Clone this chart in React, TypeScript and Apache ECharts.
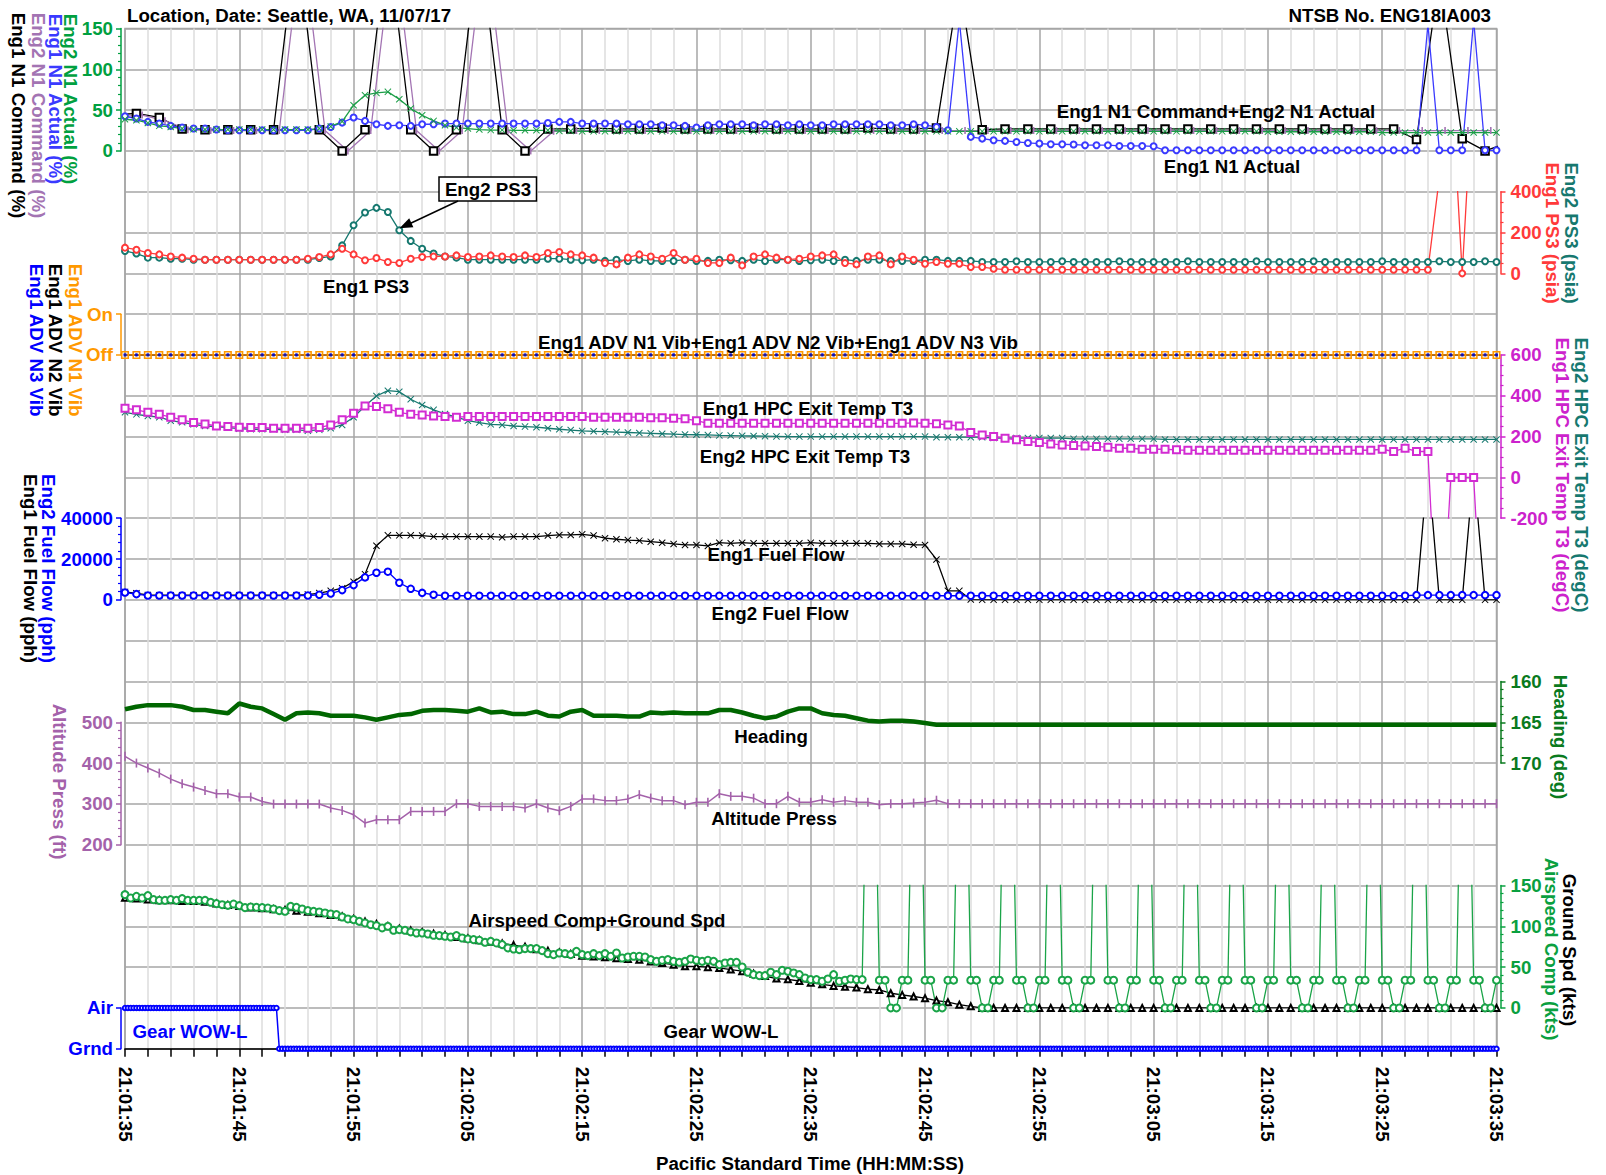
import React, { useEffect, useRef } from 'react';
import * as echarts from 'echarts';

const FONT = '"Liberation Sans", Arial, Helvetica, sans-serif';
const FS = 18.7;

// ---------------- tick labels ----------------
const timeTickLabels = ['21:01:35', '21:01:45', '21:01:55', '21:02:05', '21:02:15', '21:02:25', '21:02:35', '21:02:45', '21:02:55', '21:03:05', '21:03:15', '21:03:25', '21:03:35'];
const advStateLabels = ['Off', 'On'];
const gearStateLabels = ['Grnd', 'Air'];

// ---------------- data (seconds after 21:01:35) ----------------
// N1 commands sampled every 2 s (Eng1 from t=-1, Eng2 from t=-0.5)
const eng1N1Command = [44, 46, 41, 27, 26, 26, 26, 26, 260, 26,
  0, 26, 260, 26, 0, 26, 260, 26, 0, 27,
  27, 28, 27, 27, 28, 27, 27, 27, 28, 27,
  27, 27, 27, 28, 27, 27, 28, 205, 26, 27,
  27, 27, 27, 27, 27, 27, 27, 27, 27, 27,
  27, 27, 27, 27, 27, 27, 27, 14, 215, 15,
  0, 10];
const eng2N1Command = [42, 44, 37, 26, 25, 25, 25, 25, 260, 25,
  0, 25, 260, 25, 0, 25, 260, 25, 0, 24,
  25, 25, 25, 25, 25, 25, 25, 25, 25, 25,
  25, 25, 25, 25, 25, 25, 25, 25, 25, 25,
  25, 25, 25, 25, 25, 25, 25, 25, 25, 25,
  25, 25, 25, 25, 25, 25, 25, 25, 25, 25,
  25];
// 1 s parameters, t = 0..120
const eng1N1Actual = [42.5, 39.7, 35.6, 33.5, 30.7, 28.6, 27.4, 27.4, 26.2, 25.3,
  25.3, 25.3, 25.3, 25.3, 25.3, 25.3, 25.3, 27.4, 29.4, 34.7,
  40.9, 36.8, 32.7, 30.7, 31.5, 30.7, 32.7, 32.7, 33.5, 33.5,
  33.5, 33.5, 33.5, 33.5, 33.5, 33.5, 33.5, 34.3, 35.6, 35.6,
  33.5, 33.5, 33.5, 33.5, 32.7, 32.7, 32.7, 31.5, 31.5, 30.7,
  28.6, 31.5, 32.7, 32.7, 32.7, 31.5, 32.7, 32.7, 31.5, 32.7,
  31.5, 31.5, 32.7, 32.7, 32.7, 32.7, 32.7, 31.5, 31.5, 32.7,
  31.5, 29.4, 25.3, 160, 17.2, 15.1, 13.1, 12.3, 11, 9.8,
  9, 8.2, 8.2, 7.8, 7, 7, 7, 6.1, 6.1, 6.1,
  5.7, 0.8, 0.8, 0.8, 0.8, 0.8, 0.8, 0.8, 0.8, 0.8,
  0.8, 0.8, 0.8, 0.8, 0.8, 0.8, 0.8, 0.8, 0.8, 0.8,
  0.8, 0.8, 0.8, 0.8, 155, 0.8, 0.8, 0.8, 160, 0.8,
  0.8];
const eng2N1Actual = [38.8, 37.6, 34.3, 30.7, 29.4, 27.4, 26.6, 26.2, 26.2, 26.2,
  26.2, 26.2, 26.2, 26.2, 26.2, 26.2, 26.2, 27.4, 30, 36,
  56, 68.3, 71.1, 72.4, 63.4, 51.9, 43.7, 36.8, 31.5, 28.6,
  27.4, 26.2, 25.5, 25.5, 25.3, 25.3, 25.3, 25.3, 24.5, 24.5,
  24, 24, 24, 24, 24, 24, 24, 24, 24, 24,
  24, 24, 24, 24, 24, 24, 24, 24, 24, 24,
  24, 24, 24, 24, 24, 24, 24, 24, 24, 24,
  24, 24, 24, 24, 24, 24, 24, 24, 24, 24,
  24, 24, 24, 24, 24, 24, 24, 24, 24, 24,
  24, 24, 24, 24, 24, 24, 24, 24, 24, 24,
  23.5, 23.5, 23.5, 23.5, 23.5, 23.5, 23.5, 23.5, 23.5, 23.5,
  22.5, 22.5, 22.5, 22.5, 22.5, 22.5, 22.5, 22.5, 22.5, 22.5,
  22.5];
const eng2PS3 = [110, 97, 77, 77, 72, 72, 67, 67, 67, 67,
  67, 67, 67, 67, 67, 67, 67, 75, 83, 137,
  236, 298, 321, 301, 211, 159, 121, 97, 83, 77,
  67, 67, 67, 67, 67, 67, 67, 72, 72, 67,
  64, 67, 61, 67, 61, 67, 61, 61, 61, 67,
  61, 61, 67, 64, 61, 67, 61, 67, 67, 61,
  64, 67, 61, 67, 61, 67, 67, 61, 61, 61,
  67, 67, 61, 61, 61, 56, 56, 56, 59, 56,
  56, 56, 59, 56, 56, 56, 56, 59, 56, 56,
  56, 56, 56, 59, 56, 56, 56, 56, 56, 59,
  56, 56, 56, 56, 59, 56, 56, 56, 56, 56,
  59, 56, 56, 56, 56, 59, 56, 56, 56, 59,
  56];
const eng1PS3 = [126, 116, 100, 93, 83, 77, 72, 67, 67, 67,
  67, 67, 67, 67, 67, 67, 72, 80, 93, 121,
  93, 64, 75, 56, 51, 72, 80, 83, 83, 88,
  80, 83, 88, 83, 80, 88, 80, 100, 105, 93,
  88, 77, 51, 44, 77, 93, 83, 72, 100, 67,
  72, 51, 51, 77, 39, 83, 93, 77, 67, 72,
  83, 88, 93, 51, 44, 83, 88, 44, 83, 67,
  47, 56, 47, 47, 31, 31, 23, 18, 18, 18,
  18, 18, 18, 18, 18, 18, 18, 18, 18, 18,
  18, 18, 18, 18, 18, 18, 18, 18, 18, 18,
  18, 18, 18, 18, 18, 18, 18, 18, 18, 18,
  18, 18, 18, 18, 18, 470, 1000, 0, 1000, 1000,
  1000];
const eng1AdvN1Vib = [0, 0, 0, 0, 0, 0, 0, 0, 0, 0, 0, 0, 0, 0, 0, 0, 0, 0, 0, 0,
  0, 0, 0, 0, 0, 0, 0, 0, 0, 0, 0, 0, 0, 0, 0, 0, 0, 0, 0, 0,
  0, 0, 0, 0, 0, 0, 0, 0, 0, 0, 0, 0, 0, 0, 0, 0, 0, 0, 0, 0,
  0, 0, 0, 0, 0, 0, 0, 0, 0, 0, 0, 0, 0, 0, 0, 0, 0, 0, 0, 0,
  0, 0, 0, 0, 0, 0, 0, 0, 0, 0, 0, 0, 0, 0, 0, 0, 0, 0, 0, 0,
  0, 0, 0, 0, 0, 0, 0, 0, 0, 0, 0, 0, 0, 0, 0, 0, 0, 0, 0, 0, 0];
const eng1AdvN2Vib = [0, 0, 0, 0, 0, 0, 0, 0, 0, 0, 0, 0, 0, 0, 0, 0, 0, 0, 0, 0,
  0, 0, 0, 0, 0, 0, 0, 0, 0, 0, 0, 0, 0, 0, 0, 0, 0, 0, 0, 0,
  0, 0, 0, 0, 0, 0, 0, 0, 0, 0, 0, 0, 0, 0, 0, 0, 0, 0, 0, 0,
  0, 0, 0, 0, 0, 0, 0, 0, 0, 0, 0, 0, 0, 0, 0, 0, 0, 0, 0, 0,
  0, 0, 0, 0, 0, 0, 0, 0, 0, 0, 0, 0, 0, 0, 0, 0, 0, 0, 0, 0,
  0, 0, 0, 0, 0, 0, 0, 0, 0, 0, 0, 0, 0, 0, 0, 0, 0, 0, 0, 0, 0];
const eng1AdvN3Vib = [0, 0, 0, 0, 0, 0, 0, 0, 0, 0, 0, 0, 0, 0, 0, 0, 0, 0, 0, 0,
  0, 0, 0, 0, 0, 0, 0, 0, 0, 0, 0, 0, 0, 0, 0, 0, 0, 0, 0, 0,
  0, 0, 0, 0, 0, 0, 0, 0, 0, 0, 0, 0, 0, 0, 0, 0, 0, 0, 0, 0,
  0, 0, 0, 0, 0, 0, 0, 0, 0, 0, 0, 0, 0, 0, 0, 0, 0, 0, 0, 0,
  0, 0, 0, 0, 0, 0, 0, 0, 0, 0, 0, 0, 0, 0, 0, 0, 0, 0, 0, 0,
  0, 0, 0, 0, 0, 0, 0, 0, 0, 0, 0, 0, 0, 0, 0, 0, 0, 0, 0, 0, 0];
const eng2HpcT3 = [319, 309, 301, 295, 278, 270, 260, 252, 249, 244,
  239, 236, 236, 236, 233, 233, 229, 233, 241, 257,
  295, 350, 399, 425, 420, 383, 355, 331, 311, 295,
  278, 269, 260, 257, 252, 249, 246, 241, 236, 232,
  228, 226, 224, 222, 220, 218, 216, 214, 212, 210,
  209, 208, 206, 205, 204, 203, 202, 201, 200, 200,
  200, 200, 200, 200, 200, 200, 200, 200, 200, 200,
  200, 197, 197, 197, 197, 197, 193, 193, 193, 193,
  193, 193, 193, 189, 189, 189, 189, 189, 189, 189,
  189, 186, 186, 186, 186, 186, 186, 186, 186, 186,
  186, 186, 186, 186, 186, 186, 186, 186, 186, 186,
  186, 186, 186, 186, 186, 186, 186, 186, 186, 186,
  186];
const eng1HpcT3 = [339, 331, 319, 309, 295, 282, 269, 262, 252, 249,
  246, 244, 244, 241, 241, 241, 241, 244, 257, 282,
  314, 350, 347, 337, 319, 309, 306, 301, 298, 295,
  298, 298, 298, 298, 298, 298, 298, 298, 298, 298,
  298, 295, 295, 295, 295, 295, 292, 292, 290, 287,
  278, 265, 265, 265, 265, 265, 265, 265, 265, 265,
  265, 265, 265, 265, 265, 265, 265, 265, 265, 267,
  265, 263, 257, 252, 220, 208, 200, 192, 184, 176,
  171, 164, 159, 156, 154, 151, 148, 143, 143, 138,
  138, 138, 135, 133, 133, 133, 133, 133, 133, 133,
  133, 133, 133, 133, 133, 133, 133, 133, 133, 133,
  138, 127, 143, 127, 127, -1000, 0, 0, 0, -1000,
  -1000];
const eng1FuelFlow = [3900, 3200, 2400, 2300, 2300, 2300, 2300, 2300, 2300, 2300,
  2300, 2300, 2300, 2300, 2300, 2300, 2600, 3300, 4400, 5700,
  8900, 12600, 26500, 31600, 31600, 31600, 31500, 31000, 31000, 31000,
  31000, 31000, 31000, 30700, 31000, 31000, 31000, 31500, 31800, 31800,
  32100, 31500, 30200, 29700, 29300, 29000, 28500, 28000, 27400, 26900,
  26900, 26400, 28000, 27700, 28000, 27700, 27700, 27700, 27700, 27700,
  28000, 27700, 27700, 27700, 27700, 27700, 27400, 27400, 27400, 27000,
  26900, 19800, 4400, 4400, 150, 0, 0, 0, 0, 0,
  0, 0, 0, 0, 0, 0, 0, 0, 0, 0,
  0, 0, 0, 0, 0, 0, 0, 0, 0, 0,
  0, 0, 0, 0, 0, 0, 0, 0, 0, 0,
  0, 0, 0, 0, 66000, 0, 0, 0, 64000, 0,
  0];
const eng2FuelFlow = [3600, 2800, 2100, 2100, 2100, 2100, 2100, 2100, 2100, 2100,
  2100, 2100, 2100, 2100, 2100, 2100, 2100, 2500, 3100, 4750,
  7200, 11000, 13300, 13800, 8400, 5400, 3400, 2500, 2000, 2000,
  2000, 2000, 2000, 2000, 2000, 2000, 2000, 2000, 2000, 2000,
  2000, 2000, 2000, 2000, 2000, 2000, 2000, 2000, 2000, 2000,
  2000, 2000, 2000, 2000, 2000, 2000, 2000, 2000, 2000, 2000,
  2000, 2000, 2000, 2000, 2000, 2000, 2000, 2000, 2000, 2000,
  2000, 2000, 2000, 2000, 2000, 2000, 2000, 2000, 2000, 2000,
  2000, 2000, 2000, 2000, 2000, 2000, 2000, 2000, 2000, 2000,
  2000, 2000, 2000, 2000, 2000, 2000, 2000, 2000, 2000, 2000,
  2000, 2000, 2000, 2000, 2000, 2000, 2000, 2000, 2000, 2000,
  2000, 2000, 2000, 2300, 2300, 2300, 2300, 2300, 2300, 2300,
  2300];
const heading = [163.4, 163.1, 162.9, 162.9, 162.9, 163.1, 163.5, 163.5, 163.7, 163.9,
  162.7, 163.1, 163.3, 164.0, 164.7, 163.9, 163.8, 163.9, 164.2, 164.2,
  164.2, 164.4, 164.7, 164.4, 164.1, 164.0, 163.6, 163.5, 163.5, 163.6,
  163.7, 163.3, 163.8, 163.7, 164.0, 164.0, 163.7, 164.2, 164.3, 163.7,
  163.5, 164.2, 164.2, 164.2, 164.3, 164.3, 163.8, 163.9, 163.8, 163.9,
  163.9, 163.9, 163.5, 163.5, 163.8, 164.2, 164.5, 164.3, 163.7, 163.3,
  163.3, 163.9, 164.1, 164.2, 164.5, 164.8, 164.9, 164.8, 164.8, 164.9,
  165.1, 165.3, 165.3, 165.3, 165.3, 165.3, 165.3, 165.3, 165.3, 165.3,
  165.3, 165.3, 165.3, 165.3, 165.3, 165.3, 165.3, 165.3, 165.3, 165.3,
  165.3, 165.3, 165.3, 165.3, 165.3, 165.3, 165.3, 165.3, 165.3, 165.3,
  165.3, 165.3, 165.3, 165.3, 165.3, 165.3, 165.3, 165.3, 165.3, 165.3,
  165.3, 165.3, 165.3, 165.3, 165.3, 165.3, 165.3, 165.3, 165.3, 165.3,
  165.3];
const altitudePress = [416.6, 400, 387.8, 375.5, 360.8, 349.4, 341.2, 333, 324.9, 324.9,
  316.7, 316.7, 306, 299.6, 299.6, 299.6, 299.6, 299.6, 289.8, 284.1,
  273.4, 253, 261.2, 261.2, 261.2, 281.6, 281.6, 281.6, 281.6, 300.4,
  300.4, 293.9, 293.9, 293.9, 293.9, 289.8, 300.4, 289.8, 283.3, 293.9,
  312, 312, 308, 308, 312, 322.6, 314.4, 308, 308, 298,
  304, 304, 325, 318.5, 318.5, 314, 300.4, 300.4, 318.5, 304,
  304, 310, 304, 308, 304, 304, 298, 300.4, 300.4, 302,
  304, 309, 300.4, 300.4, 300.4, 300.4, 300.4, 300.4, 300.4, 300.4,
  300.4, 300.4, 300.4, 300.4, 300.4, 300.4, 300.4, 300.4, 300.4, 300.4,
  300.4, 300.4, 300.4, 300.4, 300.4, 300.4, 300.4, 300.4, 300.4, 300.4,
  300.4, 300.4, 300.4, 300.4, 300.4, 300.4, 300.4, 300.4, 300.4, 300.4,
  300.4, 300.4, 300.4, 300.4, 300.4, 300.4, 300.4, 300.4, 300.4, 300.4,
  300.4];
const groundSpd = [135, 134, 133, 132, 132, 131, 131, 130, 128, 126,
  125, 123, 122, 121, 120, 119, 118, 116, 114, 112,
  109, 106, 103, 100, 97, 95, 93, 91, 89, 87,
  85, 83, 81, 79, 77, 75, 72, 70, 68, 66,
  64, 63, 62, 61, 60, 59, 57, 55, 53, 51,
  51, 50, 49, 47, 45, 42, 39, 36, 35, 33,
  31, 29, 27, 26, 25, 23, 22, 18, 16, 14,
  12, 9, 7, 4, 2, 0, 0, 0, 0, 0,
  0, 0, 0, 0, 0, 0, 0, 0, 0, 0,
  0, 0, 0, 0, 0, 0, 0, 0, 0, 0,
  0, 0, 0, 0, 0, 0, 0, 0, 0, 0,
  0, 0, 0, 0, 0, 0, 0, 0, 0, 0,
  0];
// Airspeed Comp, every 0.5 s
const airspeedComp = [138.8, 134.7, 136.7, 134.7, 137.6, 132.7, 131.8, 131.8, 132.7, 131.8,
  133.9, 131.8, 131.8, 131.8, 131.8, 129.4, 127.8, 126.5, 125.7, 127.3,
  125.3, 122.9, 123.7, 123.3, 122.9, 122.4, 121.2, 119.2, 118.4, 124.5,
  123.3, 121.2, 119.2, 118.4, 117.6, 116.3, 115.1, 114.3, 111.4, 109,
  108.2, 106.1, 104.1, 102, 100.8, 98, 100, 95.1, 95.9, 95.1,
  93.1, 91.8, 91.8, 90.6, 89, 88.6, 87.8, 86.9, 88.6, 85.7,
  84.5, 83.7, 82.9, 80.4, 81.6, 79.6, 77.6, 73.5, 72.2, 71.4,
  72.7, 72.7, 72.7, 70.2, 66.5, 65.3, 67.3, 66.5, 65.3, 69.4,
  65.3, 64.1, 66.5, 64.1, 66.5, 63.3, 67.3, 61.2, 62.4, 63.3,
  63.3, 62.4, 59.2, 57.1, 58.4, 59.2, 57.1, 55.9, 57.1, 60,
  58.4, 57.1, 58.4, 57.1, 53.1, 55.1, 55.9, 55.9, 50.2, 43.7,
  40.8, 39.6, 39.6, 43.7, 40.8, 46.1, 44.9, 42.9, 40.8, 36.7,
  34.7, 34.7, 32.7, 35.5, 40.8, 32.7, 33.9, 35.5, 34.7, 34.7,
  400, 400, 34, 34, 0, 0, 34, 34,
  400, 400, 34, 34, 0, 0, 34, 34,
  400, 400, 34, 34, 0, 0, 34, 34,
  400, 400, 34, 34, 0, 0, 34, 34,
  400, 400, 34, 34, 0, 0, 34, 34,
  400, 400, 34, 34, 0, 0, 34, 34,
  400, 400, 34, 34, 0, 0, 34, 34,
  400, 400, 34, 34, 0, 0, 34, 34,
  400, 400, 34, 34, 0, 0, 34, 34,
  400, 400, 34, 34, 0, 0, 34, 34,
  400, 400, 34, 34, 0, 0, 34, 34,
  400, 400, 34, 34, 0, 0, 34, 34,
  400, 400, 34, 34, 0, 0, 34, 34,
  400, 400, 34, 34, 0, 0, 34];
// Gear WOW-L (1 = Air, 0 = Grnd), every 0.25 s
const gearWowL = [1, 1, 1, 1, 1, 1, 1, 1, 1, 1, 1, 1, 1, 1, 1, 1, 1, 1, 1, 1,
  1, 1, 1, 1, 1, 1, 1, 1, 1, 1, 1, 1, 1, 1, 1, 1, 1, 1, 1, 1,
  1, 1, 1, 1, 1, 1, 1, 1, 1, 1, 1, 1, 1, 1, 0, 0, 0, 0, 0, 0,
  0, 0, 0, 0, 0, 0, 0, 0, 0, 0, 0, 0, 0, 0, 0, 0, 0, 0, 0, 0,
  0, 0, 0, 0, 0, 0, 0, 0, 0, 0, 0, 0, 0, 0, 0, 0, 0, 0, 0, 0,
  0, 0, 0, 0, 0, 0, 0, 0, 0, 0, 0, 0, 0, 0, 0, 0, 0, 0, 0, 0,
  0, 0, 0, 0, 0, 0, 0, 0, 0, 0, 0, 0, 0, 0, 0, 0, 0, 0, 0, 0,
  0, 0, 0, 0, 0, 0, 0, 0, 0, 0, 0, 0, 0, 0, 0, 0, 0, 0, 0, 0,
  0, 0, 0, 0, 0, 0, 0, 0, 0, 0, 0, 0, 0, 0, 0, 0, 0, 0, 0, 0,
  0, 0, 0, 0, 0, 0, 0, 0, 0, 0, 0, 0, 0, 0, 0, 0, 0, 0, 0, 0,
  0, 0, 0, 0, 0, 0, 0, 0, 0, 0, 0, 0, 0, 0, 0, 0, 0, 0, 0, 0,
  0, 0, 0, 0, 0, 0, 0, 0, 0, 0, 0, 0, 0, 0, 0, 0, 0, 0, 0, 0,
  0, 0, 0, 0, 0, 0, 0, 0, 0, 0, 0, 0, 0, 0, 0, 0, 0, 0, 0, 0,
  0, 0, 0, 0, 0, 0, 0, 0, 0, 0, 0, 0, 0, 0, 0, 0, 0, 0, 0, 0,
  0, 0, 0, 0, 0, 0, 0, 0, 0, 0, 0, 0, 0, 0, 0, 0, 0, 0, 0, 0,
  0, 0, 0, 0, 0, 0, 0, 0, 0, 0, 0, 0, 0, 0, 0, 0, 0, 0, 0, 0,
  0, 0, 0, 0, 0, 0, 0, 0, 0, 0, 0, 0, 0, 0, 0, 0, 0, 0, 0, 0,
  0, 0, 0, 0, 0, 0, 0, 0, 0, 0, 0, 0, 0, 0, 0, 0, 0, 0, 0, 0,
  0, 0, 0, 0, 0, 0, 0, 0, 0, 0, 0, 0, 0, 0, 0, 0, 0, 0, 0, 0,
  0, 0, 0, 0, 0, 0, 0, 0, 0, 0, 0, 0, 0, 0, 0, 0, 0, 0, 0, 0,
  0, 0, 0, 0, 0, 0, 0, 0, 0, 0, 0, 0, 0, 0, 0, 0, 0, 0, 0, 0,
  0, 0, 0, 0, 0, 0, 0, 0, 0, 0, 0, 0, 0, 0, 0, 0, 0, 0, 0, 0,
  0, 0, 0, 0, 0, 0, 0, 0, 0, 0, 0, 0, 0, 0, 0, 0, 0, 0, 0, 0,
  0, 0, 0, 0, 0, 0, 0, 0, 0, 0, 0, 0, 0, 0, 0, 0, 0, 0, 0, 0,
  0];

// ---------------- colours ----------------
const C = {
  green: '#1c9e48', blue: '#3a3aff', purple: '#a374b3', black: '#000000',
  teal: '#16786f', red: '#ff3a3a', orange: '#ff9900', navy: '#0000ff',
  magenta: '#d22cd2', heading: '#006600', headingAxis: '#0a7a1e', alt: '#a462aa',
  speed: '#1aa448', grid: '#a6a6a6', minor: '#dddddd',
};

// ---------------- layout ----------------
const PLOT_LEFT = 125;
const PLOT_RIGHT = 109.5;
const PLOT_TOP = 28.5;
const ROW = 40.81;

const SYM_X = 'path://M1,0L5,4L9,0L10,1L6,5L10,9L9,10L5,6L1,10L0,9L4,5L0,1Z';
const SYM_BAR = 'path://M0,0H1V10H0Z';

const pairs = (vals: number[], t0: number, dt: number) => vals.map((v, i) => [t0 + i * dt, v]);

function gridRows(k0: number, k1: number, show = false) {
  return {
    left: PLOT_LEFT, right: PLOT_RIGHT, top: PLOT_TOP + ROW * k0, height: ROW * (k1 - k0),
    containLabel: false, outerBoundsMode: 'none', show,
    borderColor: C.grid, borderWidth: 1.5, backgroundColor: 'transparent',
  };
}

function yAx(gridIndex: number, position: string, color: string, min: number, max: number, interval: number, minorSplit: number, extra: any = {}) {
  return {
    type: 'value', gridIndex, position, offset: 4, min, max, interval,
    axisLine: { show: true, onZero: false, lineStyle: { color, width: 1.5 } },
    axisTick: { show: true, inside: false, length: 5, lineStyle: { color, width: 1.5 } },
    minorTick: { show: minorSplit > 0, splitNumber: minorSplit || 5, length: 3, lineStyle: { color, width: 1.2 } },
    axisLabel: {
      color, fontFamily: FONT, fontWeight: 'bold', fontSize: FS,
      margin: position === 'left' ? 8 : 10,
      formatter: (v: number) => String(v),
      showMinLabel: true, showMaxLabel: true,
    },
    splitLine: { show: false }, minorSplitLine: { show: false },
    ...extra,
  };
}

function line(gi: number, data: any[], color: string, symbol: string, symbolSize: any, extra: any = {}) {
  return {
    type: 'line', xAxisIndex: gi, yAxisIndex: gi, data, symbol, symbolSize,
    showSymbol: true, showAllSymbol: true, silent: true, animation: false, clip: true,
    lineStyle: { color, width: 1.3 },
    itemStyle: { color, borderColor: color, borderWidth: 1.2 },
    emphasis: { disabled: true },
    ...extra,
  };
}

function vText(text: string, x: number, y: number, fill: string) {
  return {
    type: 'text', x, y, rotation: -Math.PI / 2, z: 50, silent: true,
    style: {
      text, fill, fontFamily: FONT, fontWeight: 'bold', fontSize: FS,
      align: 'center', verticalAlign: 'middle', textAlign: 'center', textVerticalAlign: 'middle',
    },
  };
}

function hText(text: string, x: number, y: number, fill = '#000', align = 'center') {
  return {
    type: 'text', x, y, z: 50, silent: true,
    style: {
      text, fill, fontFamily: FONT, fontWeight: 'bold', fontSize: FS,
      align, verticalAlign: 'middle', textAlign: align, textVerticalAlign: 'middle',
    },
  };
}

function buildOption() {
  const grids = [
    gridRows(0, 25, true),
    gridRows(0, 3), gridRows(4, 6), gridRows(7, 8), gridRows(8, 12), gridRows(12, 14),
    gridRows(16, 18), gridRows(17, 20), gridRows(21, 24), gridRows(24, 25),
  ];
  const xAxes: any[] = [{
    type: 'value', gridIndex: 0, min: 0, max: 120, interval: 10, position: 'bottom',
    axisLine: { show: true, onZero: false, lineStyle: { color: '#000', width: 1.5 } },
    axisTick: { show: true, length: 8, lineStyle: { color: '#000', width: 1.5 } },
    minorTick: { show: true, splitNumber: 5, length: 8, lineStyle: { color: '#000', width: 1.5 } },
    splitLine: { show: true, lineStyle: { color: C.grid, width: 1.5 } },
    minorSplitLine: { show: true, lineStyle: { color: C.minor, width: 1.5 } },
    axisLabel: {
      rotate: -90, margin: 18, color: '#000', fontFamily: FONT, fontWeight: 'bold', fontSize: FS,
      showMinLabel: true, showMaxLabel: true,
      formatter: (v: number) => timeTickLabels[Math.round(v / 10)] ?? '',
    },
  }];
  for (let i = 1; i < grids.length; i++) {
    xAxes.push({ type: 'value', gridIndex: i, min: 0, max: 120, show: false });
  }
  const yAxes: any[] = [
    {
      type: 'value', gridIndex: 0, min: 0, max: 25, interval: 1,
      axisLine: { show: false }, axisTick: { show: false }, axisLabel: { show: false },
      splitLine: { show: true, lineStyle: { color: C.grid, width: 1.5 } },
    },
    yAx(1, 'left', '#00a040', 0, 150, 50, 5),
    yAx(2, 'right', C.red, 0, 400, 200, 4),
    yAx(3, 'left', C.orange, 0, 1, 1, 0, {
      axisLabel: {
        color: C.orange, fontFamily: FONT, fontWeight: 'bold', fontSize: FS, margin: 8,
        formatter: (v: number) => advStateLabels[v] ?? '',
      },
    }),
    yAx(4, 'right', '#cc22cc', -200, 600, 200, 4),
    yAx(5, 'left', C.navy, 0, 40000, 20000, 5),
    yAx(6, 'right', C.headingAxis, 160, 170, 5, 5, { inverse: true }),
    yAx(7, 'left', C.alt, 200, 500, 100, 5),
    yAx(8, 'right', '#0aa040', 0, 150, 50, 5),
    yAx(9, 'left', C.navy, 0, 1, 1, 0, {
      axisLabel: {
        color: C.navy, fontFamily: FONT, fontWeight: 'bold', fontSize: FS, margin: 8,
        formatter: (v: number) => gearStateLabels[v] ?? '',
      },
    }),
  ];

  const series: any[] = [
    // N1
    line(1, pairs(eng1N1Command, -1, 2), C.black, 'emptyRect', 7.5),
    line(1, pairs(eng2N1Command, -0.5, 2), C.purple, SYM_BAR, [1.6, 7], { itemStyle: { color: C.purple, borderWidth: 0 } }),
    line(1, pairs(eng1N1Actual, 0, 1), C.blue, 'emptyCircle', 6),
    line(1, pairs(eng2N1Actual, 0, 1), C.green, SYM_X, 7, { itemStyle: { color: C.green, borderWidth: 0 } }),
    // PS3
    line(2, pairs(eng2PS3, 0, 1), C.teal, 'emptyCircle', 6),
    line(2, pairs(eng1PS3, 0, 1), C.red, 'emptyCircle', 6),
    // ADV vib
    line(3, pairs(eng1AdvN3Vib, 0, 1), C.navy, 'circle', 2),
    line(3, pairs(eng1AdvN2Vib, 0, 1), C.black, SYM_X, 3, { itemStyle: { color: '#333', borderWidth: 0 } }),
    line(3, pairs(eng1AdvN1Vib, 0, 1), C.orange, 'rect', 6.5, {
      itemStyle: { color: 'rgba(0,0,0,0)', borderColor: C.orange, borderWidth: 1.6 },
      lineStyle: { color: C.orange, width: 1.6 },
    }),
    // HPC T3
    line(4, pairs(eng2HpcT3, 0, 1), C.teal, SYM_X, 7, { itemStyle: { color: C.teal, borderWidth: 0 } }),
    line(4, pairs(eng1HpcT3, 0, 1), C.magenta, 'emptyRect', 7),
    // Fuel flow
    line(5, pairs(eng1FuelFlow, 0, 1), C.black, SYM_X, 7, { itemStyle: { color: '#000', borderWidth: 0 } }),
    line(5, pairs(eng2FuelFlow, 0, 1), C.navy, 'emptyCircle', 6.5, { itemStyle: { color: C.navy, borderColor: C.navy, borderWidth: 1 } }),
    // Heading
    line(6, pairs(heading, 0, 1), C.heading, 'none', 0, { lineStyle: { color: C.heading, width: 4.5 } }),
    // Altitude
    line(7, pairs(altitudePress, 0, 1), C.alt, SYM_BAR, [1.6, 9], { itemStyle: { color: C.alt, borderWidth: 0 }, lineStyle: { color: C.alt, width: 1.5 } }),
    // Speeds
    line(8, pairs(groundSpd, 0, 1), C.black, 'emptyTriangle', 6),
    line(8, pairs(airspeedComp, 0, 0.5), C.speed, 'emptyCircle', 7, { itemStyle: { color: C.speed, borderColor: C.speed, borderWidth: 1.5 } }),
    // Gear
    line(9, pairs(gearWowL, 0, 0.25), C.navy, 'emptyCircle', 4.5, { lineStyle: { color: C.navy, width: 1.5 } }),
  ];

  const graphic: any[] = [
    hText('Location, Date: Seattle, WA, 11/07/17', 127, 15, '#000', 'left'),
    hText('NTSB No. ENG18IA003', 1491, 15, '#000', 'right'),
    hText('Eng1 N1 Command+Eng2 N1 Actual', 1216, 111),
    hText('Eng1 N1 Actual', 1232, 166),
    { type: 'rect', z: 49, silent: true, shape: { x: 439, y: 177, width: 97.5, height: 24 }, style: { fill: '#fff', stroke: '#000', lineWidth: 1.5 } },
    hText('Eng2 PS3', 488, 189.5),
    { type: 'line', z: 49, silent: true, shape: { x1: 458, y1: 201, x2: 408, y2: 224.5 }, style: { stroke: '#000', lineWidth: 1.5 } },
    { type: 'polygon', z: 49, silent: true, shape: { points: [[399.5, 228.3], [413.4, 227.3], [409.2, 218.3]] }, style: { fill: '#000' } },
    hText('Eng1 PS3', 366, 286),
    hText('Eng1 ADV N1 Vib+Eng1 ADV N2 Vib+Eng1 ADV N3 Vib', 778, 342),
    hText('Eng1 HPC Exit Temp T3', 808, 408),
    hText('Eng2 HPC Exit Temp T3', 805, 456),
    hText('Eng1 Fuel Flow', 776, 554),
    hText('Eng2 Fuel Flow', 780, 613),
    hText('Heading', 771, 736),
    hText('Altitude Press', 774, 818),
    hText('Airspeed Comp+Ground Spd', 597, 920),
    hText('Gear WOW-L', 721, 1031),
    hText('Gear WOW-L', 190, 1031, C.navy),
    hText('Pacific Standard Time (HH:MM:SS)', 810, 1163),
    vText('Eng2 N1 Actual (%)', 70.6, 99, '#00a040'),
    vText('Eng1 N1 Actual (%)', 55, 99, C.blue),
    vText('Eng2 N1 Command (%)', 38, 115.5, C.purple),
    vText('Eng1 N1 Command (%)', 18, 115.5, '#000'),
    vText('Eng2 PS3 (psia)', 1571.5, 233, C.teal),
    vText('Eng1 PS3 (psia)', 1552, 233, C.red),
    vText('Eng1 ADV N1 Vib', 75, 340, C.orange),
    vText('Eng1 ADV N2 Vib', 55, 340, '#000'),
    vText('Eng1 ADV N3 Vib', 36, 340, C.navy),
    vText('Eng1 HPC Exit Temp T3 (degC)', 1562, 475, '#cc22cc'),
    vText('Eng2 HPC Exit Temp T3 (degC)', 1581, 475, C.teal),
    vText('Eng2 Fuel Flow (pph)', 48, 568.5, C.navy),
    vText('Eng1 Fuel Flow (pph)', 30, 568.5, '#000'),
    vText('Heading (deg)', 1560, 737, C.headingAxis),
    vText('Altitude Press (ft)', 59, 781.5, C.alt),
    vText('Airspeed Comp (kts)', 1551.5, 949, '#0aa040'),
    vText('Ground Spd (kts)', 1569, 950, '#000'),
  ];

  return {
    animation: false,
    backgroundColor: '#ffffff',
    textStyle: { fontFamily: FONT },
    grid: grids,
    xAxis: xAxes,
    yAxis: yAxes,
    series,
    graphic,
  };
}

export default function App() {
  const ref = useRef<HTMLDivElement>(null);
  useEffect(() => {
    document.body.style.margin = '0';
    const chart = echarts.init(ref.current as HTMLDivElement, null, { renderer: 'svg' });
    chart.setOption(buildOption() as any);
    return () => chart.dispose();
  }, []);
  return <div ref={ref} style={{ width: 1606, height: 1175, background: '#fff' }} />;
}
